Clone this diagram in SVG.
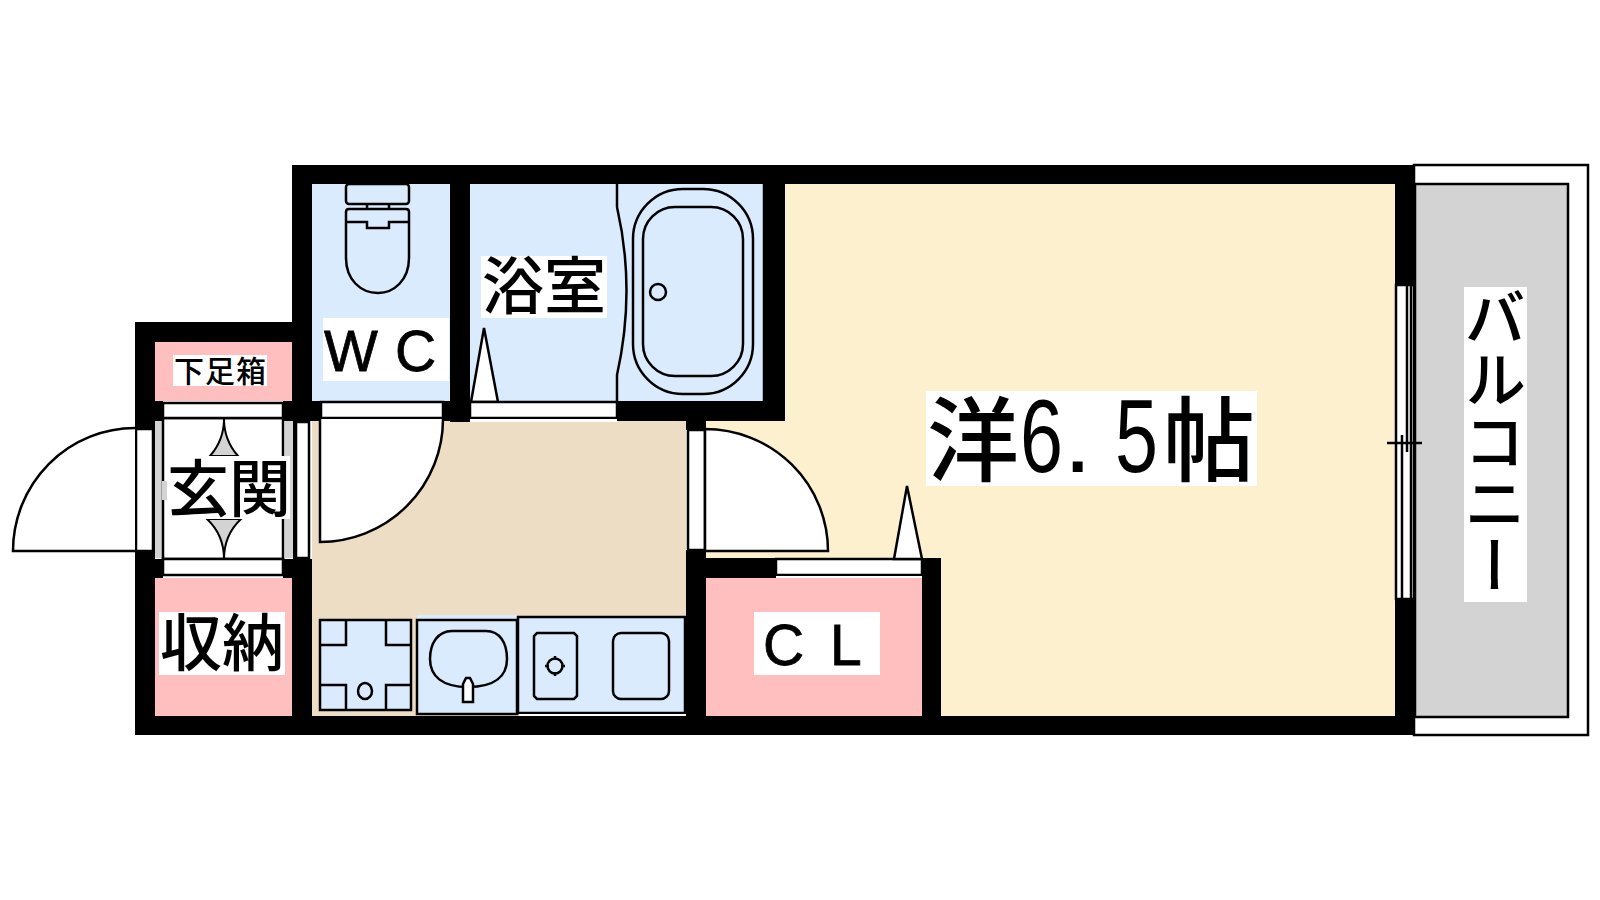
<svg xmlns="http://www.w3.org/2000/svg" width="1600" height="900" viewBox="0 0 1600 900">
<style>
.l{fill:none;stroke:#000;stroke-width:2.5}
.w{fill:#fff;stroke:#000;stroke-width:2.5}
.f{fill:#fff}
.k{fill:#000}
.b{fill:#dbebfe;stroke:#000;stroke-width:2.5}
.g{fill:#d3d3d3}
.t{font-family:"Noto Sans CJK JP","Noto Sans",sans-serif;fill:#000;font-weight:500}
.a{font-family:"Liberation Sans",sans-serif;fill:#000;stroke:#000;stroke-width:.8}
.d{font-family:"Liberation Sans",sans-serif;font-size:104px;font-weight:400}
</style>
<rect width="1600" height="900" fill="#fff"/>
<g id="balcony">
<rect x="1414" y="165" width="174" height="570" class="w"/>
<rect x="1415" y="184" width="153" height="533" class="g" stroke="#000" stroke-width="2.5"/>
<rect x="1464" y="287" width="63" height="315" class="f"/>
<text class="t" font-size="62" style="writing-mode:vertical-rl" x="1495" y="286">バルコニー</text>
</g>
<g id="room">
<path d="M785 184H1395V716H941V558H706V421H785Z" fill="#fdf0cf"/>
<rect x="926" y="391" width="331" height="95" class="f"/>
<text class="t" font-size="92" y="474"><tspan x="927">洋</tspan><tspan class="d" x="1020" y="472" textLength="43" lengthAdjust="spacingAndGlyphs">6</tspan><tspan x="1068" y="472" font-family="'Liberation Sans',sans-serif" font-weight="700" font-size="70">.</tspan><tspan class="d" x="1115" y="472" textLength="43" lengthAdjust="spacingAndGlyphs">5</tspan><tspan x="1163" y="474">帖</tspan></text>
</g>
<g id="kitchen">
<rect x="312" y="421" width="374" height="295" fill="#eeddc5"/>
<rect x="320" y="620" width="91" height="90" class="b"/>
<path class="l" d="M346 620V645H320M386 620V645H411M320 685H346V710M411 685H386V710"/>
<ellipse cx="365" cy="691" rx="7" ry="8" class="l"/>
<rect x="417" y="615" width="100" height="6" fill="#dbebfe"/>
<rect x="417" y="620" width="100" height="94" class="b"/>
<path class="l" d="M452 631H486C500 631 507 643 507 659C507 676 495 687 468 687C442 687 430 676 430 659C430 643 438 631 452 631Z"/>
<path class="w" d="M463 702V684L466 678H470L473 684V702Z"/>
<rect x="518" y="617" width="167" height="96" class="b"/>
<rect x="519" y="714" width="167" height="2" class="f"/>
<path class="l" d="M537 633H574L577 636V696L574 699H537L534 696V636Z"/>
<circle cx="555" cy="666" r="7.5" class="l"/>
<path class="l" d="M555 656V660M555 672V676M545 666H549M561 666H565"/>
<rect x="613" y="633" width="56" height="66" rx="8" class="l"/>
</g>
<g id="closet">
<rect x="706" y="578" width="216" height="138" fill="#ffbfbf"/>
<rect x="754" y="612" width="126" height="63" class="f"/>
<text class="a" font-size="57" x="763 830" y="665">CL</text>
</g>
<g id="storage">
<rect x="155" y="578" width="137" height="138" fill="#ffbfbf"/>
<rect x="159" y="612" width="126" height="63" class="f"/>
<text class="t" font-size="62" x="160" y="666">収納</text>
</g>
<g id="shoebox">
<rect x="155" y="342" width="137" height="59" fill="#ffbfbf"/>
<rect x="173" y="355" width="94" height="31" class="f"/>
<text class="t" font-size="30" x="174" y="382" letter-spacing="1">下足箱</text>
</g>
<g id="wc">
<rect x="312" y="184" width="138" height="217" fill="#dbebfe"/>
<rect x="346" y="184" width="63" height="20" rx="3" class="l"/>
<path class="l" d="M367 204V209M389 204V209M349 209H406Q409 209 409 212V258C409 280 394 293 378 293C361 293 346 280 346 258V212Q346 209 349 209ZM346 222H367V228H389V222H409"/>
<rect x="323" y="318" width="126" height="63" class="f"/>
<text class="a" font-size="57" x="324 395" y="371">WC</text>
</g>
<g id="bath">
<rect x="470" y="184" width="295" height="217" fill="#dbebfe"/>
<path class="l" d="M617 184V207Q636 290 617 375V401M764 184V401"/>
<rect x="633" y="189" width="120" height="205" rx="50" class="l"/>
<rect x="643" y="207" width="100" height="169" rx="32" class="l"/>
<circle cx="658" cy="292" r="8" class="l"/>
<rect x="481" y="256" width="126" height="62" class="f"/>
<text class="t" font-size="62" x="482" y="309">浴室</text>
<path class="w" d="M471 402L484 328L498 402Z"/>
</g>
<g id="genkan">
<rect x="155" y="421" width="8" height="137" class="g"/>
<rect x="285" y="421" width="8" height="137" class="g"/>
<rect x="163" y="418" width="120" height="141" class="w"/>
<path d="M224 419Q224 440 210 456H238Q224 440 224 419ZM207 519Q224 535 224 559Q224 535 241 519Z" class="g" stroke="#000" stroke-width="2"/>
<rect x="162" y="481" width="5" height="19" class="g"/>
<rect x="167" y="456" width="123" height="63" class="f"/>
<text class="t" font-size="62" x="167" y="512">玄関</text>
</g>
<g id="walls">
<rect x="292" y="165" width="1123" height="19" class="k"/>
<rect x="292" y="165" width="20" height="256" class="k"/>
<rect x="450" y="184" width="20" height="238" class="k"/>
<rect x="765" y="165" width="20" height="256" class="k"/>
<rect x="617" y="401" width="168" height="20" class="k"/>
<rect x="292" y="401" width="178" height="20" class="k"/>
<rect x="135" y="322" width="157" height="20" class="k"/>
<rect x="135" y="322" width="20" height="99" class="k"/>
<rect x="135" y="401" width="28" height="20" class="k"/>
<rect x="135" y="421" width="20" height="9" class="k"/>
<rect x="135" y="550" width="20" height="185" class="k"/>
<rect x="135" y="559" width="28" height="19" class="k"/>
<rect x="283" y="401" width="29" height="20" class="k"/>
<rect x="283" y="559" width="29" height="19" class="k"/>
<rect x="292" y="559" width="20" height="176" class="k"/>
<rect x="135" y="716" width="1280" height="19" class="k"/>
<rect x="686" y="421" width="20" height="9" class="k"/>
<rect x="686" y="550" width="20" height="185" class="k"/>
<rect x="686" y="558" width="255" height="20" class="k"/>
<rect x="922" y="558" width="19" height="177" class="k"/>
<rect x="1395" y="165" width="20" height="120" class="k"/>
<rect x="1395" y="599" width="20" height="136" class="k"/>
<rect x="152" y="421" width="3" height="137" class="k"/>
<rect x="293" y="421" width="3" height="138" class="k"/>
</g>
<g id="openings">
<rect x="163" y="403" width="120" height="15" class="w"/>
<rect x="163" y="559" width="120" height="16" class="w"/>
<rect x="321" y="402" width="122" height="16" class="w"/>
<rect x="470" y="402" width="147" height="16" class="w"/>
<rect x="470" y="419" width="147" height="3" class="f"/>
<rect x="776" y="559" width="146" height="16" class="w"/>
<rect x="776" y="576" width="146" height="2" class="f"/>
<rect x="136" y="429" width="17" height="122" class="w"/>
<rect x="296" y="422" width="13" height="136" class="w"/>
<rect x="688" y="430" width="17" height="120" class="w"/>
<rect x="1396" y="285" width="18" height="314" class="w"/>
<path class="l" d="M1407 285V452M1402 435V599M1411 285V599M1387 443H1422"/>
</g>
<g id="doors">
<path class="w" d="M135 428A122 123 0 0 0 13 551H135"/>
<path class="w" d="M320 419V542A123 123 0 0 0 443 419"/>
<path class="w" d="M705 429A123 122 0 0 1 828 551H705Z"/>
</g>
<g id="marks">
<path class="w" d="M894 559L907 486L922 559Z"/>
</g>
</svg>
